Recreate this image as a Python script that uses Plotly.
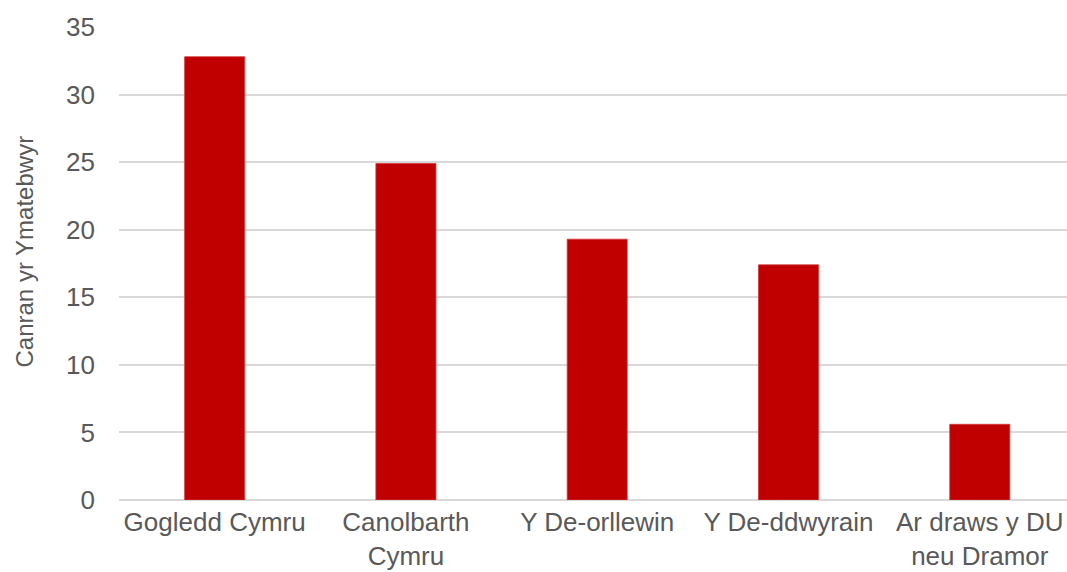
import plotly.graph_objects as go

categories = ["Gogledd Cymru", "Canolbarth<br>Cymru", "Y De-orllewin", "Y De-ddwyrain", "Ar draws y DU<br>neu Dramor"]
values = [32.8, 24.9, 19.3, 17.4, 5.6]
y_ticks = [0, 5, 10, 15, 20, 25, 30, 35]
y_title = "Canran yr Ymatebwyr"

FONT = "Liberation Sans, Arial, sans-serif"
GREY = "#595959"

fig = go.Figure()
fig.add_trace(go.Bar(
    x=categories,
    y=values,
    marker=dict(color="#C00000", line=dict(color="#D43A3A", width=0.8)),
    hoverinfo="x+y",
))

W, H = 1067, 572
ml, mr, mt, mb = 119, 0, 27, 72
pw = W - ml - mr
ph = H - mt - mb

fig.update_layout(
    width=W, height=H, autosize=False,
    margin=dict(l=ml, r=mr, t=mt, b=mb, pad=0),
    paper_bgcolor="white", plot_bgcolor="white",
    bargap=0.686,
    showlegend=False,
    font=dict(family=FONT, size=24, color=GREY),
    xaxis=dict(
        type="category",
        range=[-0.5, 4.456],
        automargin=False,
        showgrid=False,
        showline=False,
        zeroline=False,
        tickfont=dict(family=FONT, size=26, color=GREY),
        ticks="",
        ticklabelstandoff=4,
    ),
    yaxis=dict(
        range=[0, 35],
        tickvals=y_ticks,
        automargin=False,
        showgrid=True,
        gridcolor="#D9D9D9",
        gridwidth=1.5,
        zeroline=True,
        zerolinecolor="#D9D9D9",
        zerolinewidth=1.5,
        showline=False,
        tickfont=dict(family=FONT, size=26, color=GREY),
        ticks="",
        ticklabelstandoff=23,
    ),
    annotations=[dict(
        text=y_title,
        xref="paper", yref="paper",
        x=(24 - ml) / pw, y=(mt + ph - 251.5) / ph,
        xanchor="center", yanchor="middle",
        textangle=-90,
        showarrow=False,
        font=dict(family=FONT, size=24, color=GREY),
    )],
)

fig.write_html(
    "out.html",
    config={"displayModeBar": False},
    post_script="document.body.style.margin='0';document.body.style.overflow='hidden';",
)
